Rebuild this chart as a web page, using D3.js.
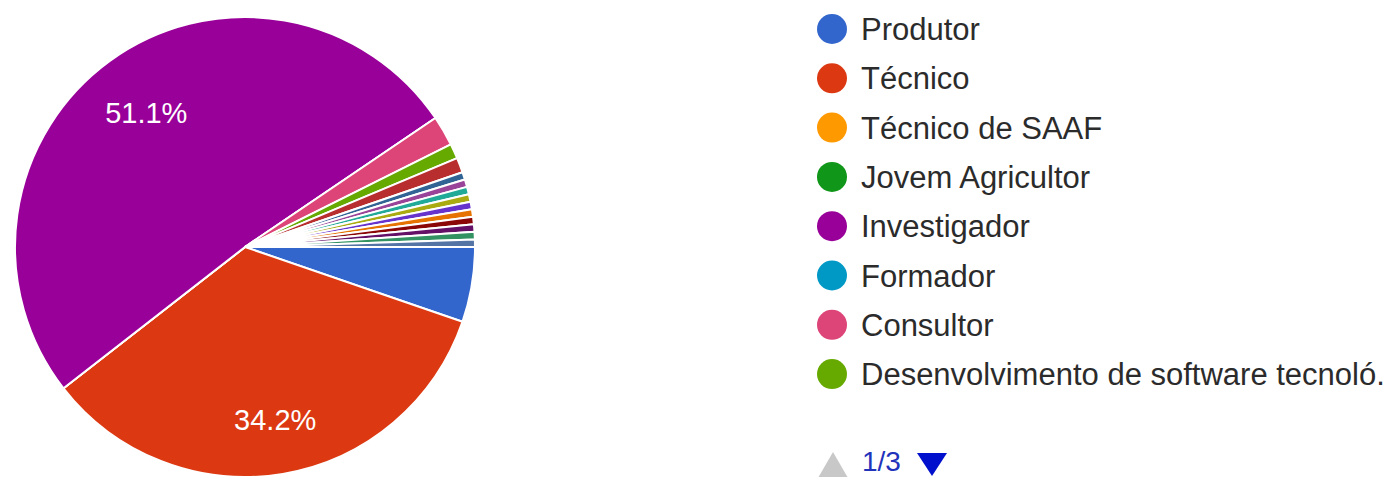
<!DOCTYPE html>
<html>
<head>
<meta charset="utf-8">
<script src="https://cdn.jsdelivr.net/npm/d3@7"></script>
<style>
  html, body { margin: 0; padding: 0; background: #ffffff; }
  svg { display: block; }
</style>
</head>
<body>
<svg id="chart" width="1400" height="477"></svg>
<script>
// Respostas por perfil (contagens)
const categories = [
  "Produtor",
  "Técnico",
  "Técnico de SAAF",
  "Jovem Agricultor",
  "Investigador",
  "Formador",
  "Consultor",
  "Desenvolvimento de software tecnoló.",
  "Outro 1", "Outro 2", "Outro 3", "Outro 4", "Outro 5", "Outro 6",
  "Outro 7", "Outro 8", "Outro 9", "Outro 10", "Outro 11"
];
const counts = [10, 65, 0, 0, 97, 0, 4, 2, 2, 1, 1, 1, 1, 1, 1, 1, 1, 1, 1];

// Paleta padrão das séries
const palette = [
  "#3366cc", "#dc3912", "#ff9900", "#109618", "#990099", "#0099c6",
  "#dd4477", "#66aa00", "#b82e2e", "#316395", "#994499", "#22aa99",
  "#aaaa11", "#6633cc", "#e67300", "#8b0707", "#651067", "#329262",
  "#5574a6"
];

const legendPageSize = 8;
const legendPage = 1;
const labelThreshold = 0.1; // só rotula fatias acima de 10%

const svg = d3.select("#chart");
const font = "'Liberation Sans', Arial, Helvetica, sans-serif";

const cx = 245, cy = 247, radius = 230;

const data = categories.map((name, i) => ({ name, value: counts[i] }));
const total = d3.sum(counts);

const color = d3.scaleOrdinal()
  .domain(categories)
  .range(palette);

// Fatias a partir das 3 horas, sentido horário
const pie = d3.pie()
  .sort(null)
  .value(d => d.value)
  .startAngle(Math.PI / 2)
  .endAngle(Math.PI / 2 + 2 * Math.PI);

const arc = d3.arc().innerRadius(0).outerRadius(radius);
const labelArc = d3.arc().innerRadius(radius * 0.745).outerRadius(radius * 0.745);

const arcs = pie(data);

const g = svg.append("g").attr("transform", `translate(${cx},${cy})`);

g.selectAll("path.slice")
  .data(arcs)
  .join("path")
  .attr("class", "slice")
  .attr("d", arc)
  .attr("fill", d => color(d.data.name))
  .attr("stroke", "#ffffff")
  .attr("stroke-width", 2)
  .attr("stroke-linejoin", "round");

const pct = d3.format(".1%");
g.selectAll("text.pct")
  .data(arcs.filter(d => d.data.value / total > labelThreshold))
  .join("text")
  .attr("class", "pct")
  .attr("transform", d => {
    const [x, y] = labelArc.centroid(d);
    return `translate(${x + 2},${y + 4})`;
  })
  .attr("text-anchor", "middle")
  .attr("dy", "0.36em")
  .attr("fill", "#ffffff")
  .style("font-family", font)
  .style("font-size", "29px")
  .text(d => pct(d.data.value / total));

// Legenda paginada
const pageCount = Math.ceil(categories.length / legendPageSize);
const pageItems = data.slice((legendPage - 1) * legendPageSize, legendPage * legendPageSize);

const legendY = d3.scaleLinear().domain([0, 1]).range([29, 29 + 49.3]);

const legend = svg.append("g").attr("class", "legend");
const rows = legend.selectAll("g.row")
  .data(pageItems)
  .join("g")
  .attr("class", "row")
  .attr("transform", (d, i) => `translate(0,${legendY(i)})`);

rows.append("circle")
  .attr("cx", 832)
  .attr("cy", 0)
  .attr("r", 15)
  .attr("fill", d => color(d.name));

rows.append("text")
  .attr("x", 861)
  .attr("y", 0)
  .attr("dy", "0.36em")
  .attr("fill", "#2b2b2b")
  .style("font-family", font)
  .style("font-size", "31px")
  .text(d => d.name);

// Controles de página
const pager = svg.append("g").attr("class", "pager");
const tri = d3.line();
pager.append("path")
  .attr("d", tri([[818, 478], [848, 478], [833, 452]]) + "Z")
  .attr("fill", "#c8c8c8");
pager.append("text")
  .attr("x", 862)
  .attr("y", 461)
  .attr("dy", "0.36em")
  .attr("fill", "#2233bb")
  .style("font-family", font)
  .style("font-size", "28px")
  .text(`${legendPage}/${pageCount}`);
pager.append("path")
  .attr("d", tri([[917, 453], [947, 453], [932, 476]]) + "Z")
  .attr("fill", "#0010cc");
</script>
</body>
</html>
